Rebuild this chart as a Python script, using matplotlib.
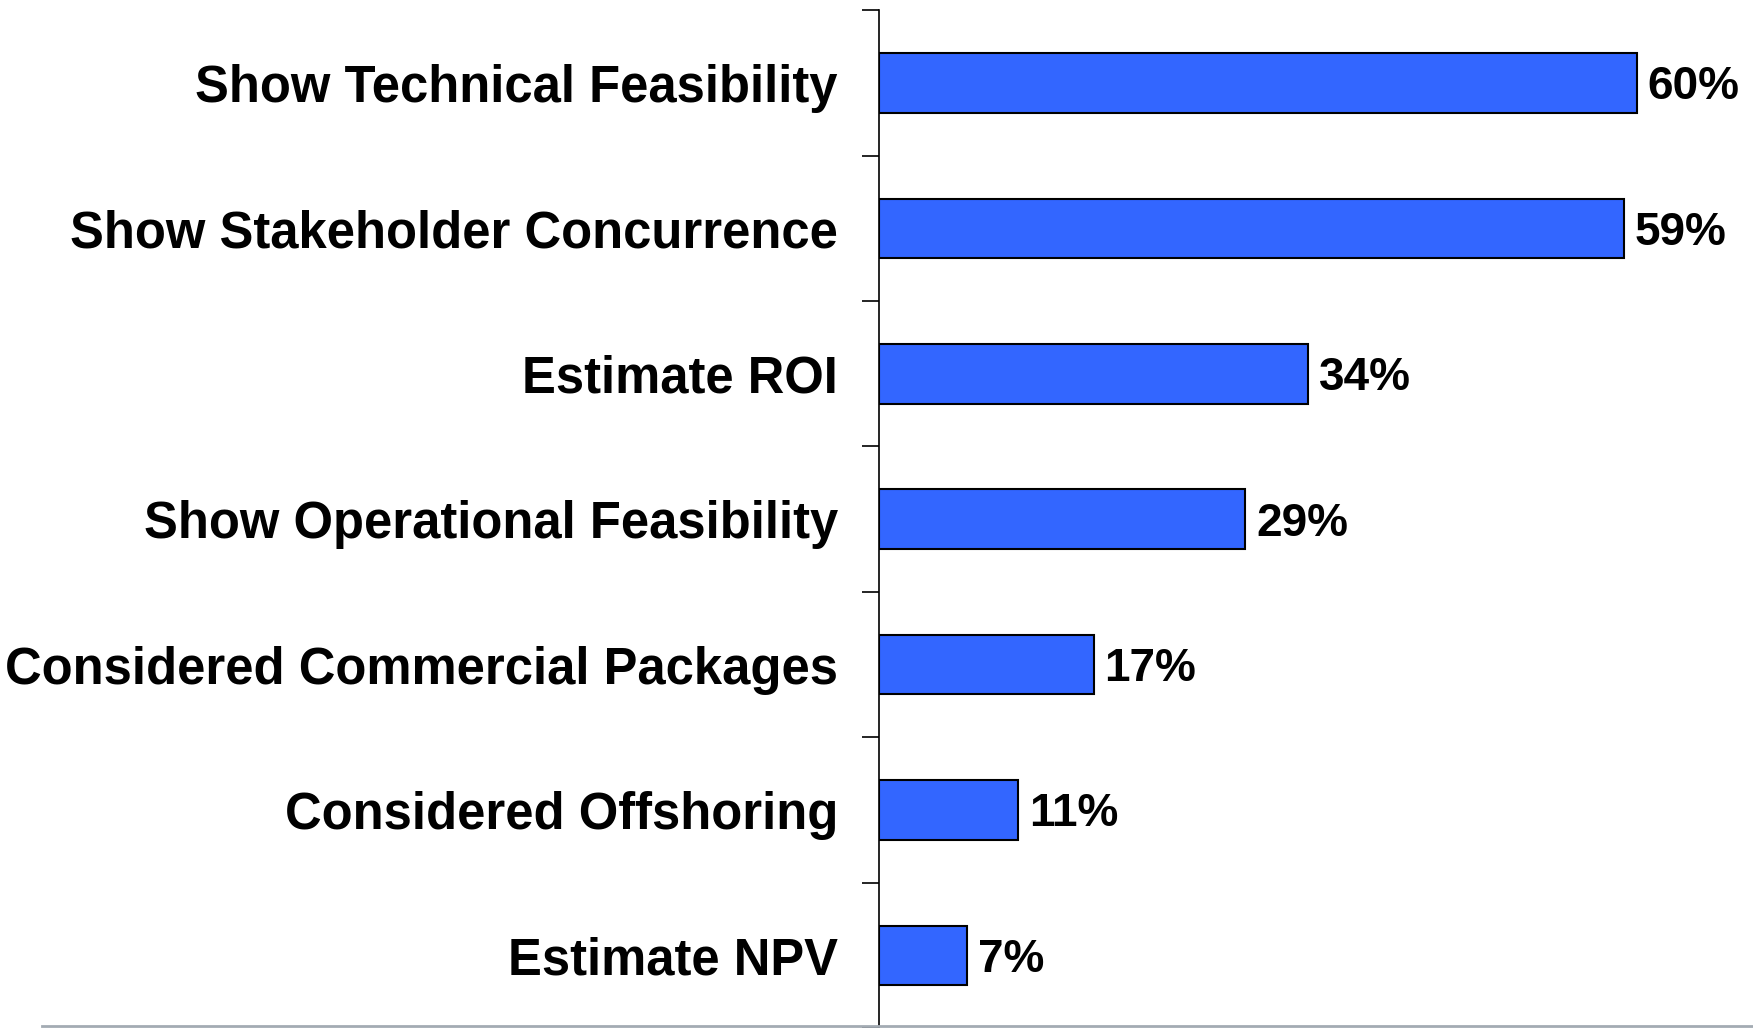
import matplotlib
matplotlib.use("Agg")
import matplotlib.pyplot as plt
from matplotlib.lines import Line2D
import numpy as np

categories = ["Show Technical Feasibility", "Show Stakeholder Concurrence",
              "Estimate ROI", "Show Operational Feasibility",
              "Considered Commercial Packages", "Considered Offshoring",
              "Estimate NPV"]
values = [60, 59, 34, 29, 17, 11, 7]

plt.rcParams['font.family'] = ['Liberation Sans', 'DejaVu Sans']
plt.rcParams['font.weight'] = 'bold'

def main():
    fig = plt.figure(figsize=(17.53, 10.28), dpi=100)
    ax = fig.add_axes([0.5014, 0.0, 0.4986, 0.990])

    y = np.arange(len(categories))
    ax.barh(y, values, height=0.41, color='#3366FF', edgecolor='black', linewidth=1.5)
    for yy, v in zip(y, values):
        ax.text(v + 0.85, yy + 0.03, f"{v}%", va='center', ha='left', fontsize=33, fontweight='bold')

    ax.set_ylim(len(categories) - 0.5, -0.5)
    ax.set_xlim(0, 69.2)

    ax.set_yticks(y)
    ax.set_yticklabels(categories, fontsize=36.5, fontweight='bold')
    ax.tick_params(axis='y', which='major', length=0, pad=29.5)
    ax.set_yticks(np.arange(-0.5, len(categories) + 0.5, 1), minor=True)
    ax.tick_params(axis='y', which='minor', length=12, width=1.2, direction='out')
    ax.set_xticks([])

    for s in ['top', 'right', 'bottom']:
        ax.spines[s].set_visible(False)
    ax.spines['left'].set_linewidth(1.2)

    # faint grey rule along the bottom of the slide
    fig.add_artist(Line2D([0.024, 1.0], [0.0015, 0.0015], transform=fig.transFigure,
                          color='#a3abb3', linewidth=2))

    plt.savefig("out.png", dpi=100)


if __name__ == "__main__":
    main()
